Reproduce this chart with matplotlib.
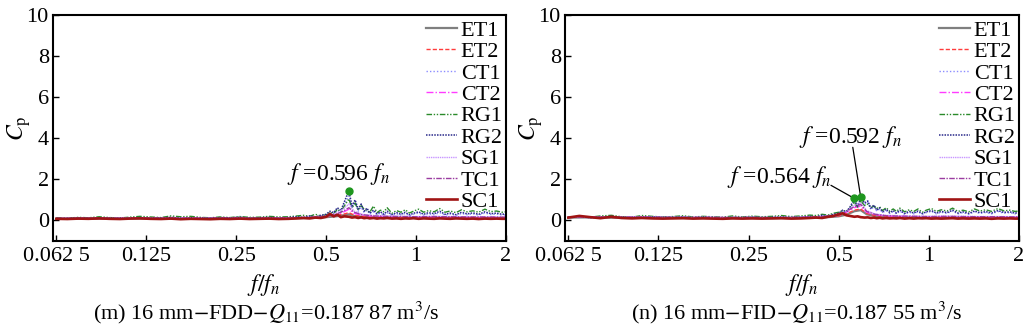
import matplotlib
matplotlib.use("Agg")
import matplotlib.pyplot as plt
import numpy as np

plt.rcParams['font.family'] = ['Liberation Serif', 'DejaVu Serif']
plt.rcParams['mathtext.fontset'] = 'stix'

# ---------------- data ----------------
series_names = ['ET1', 'ET2', 'CT1', 'CT2', 'RG1', 'RG2', 'SG1', 'TC1', 'SC1']
xtick_vals = [0.0625, 0.125, 0.25, 0.5, 1, 2]
xtick_labels = ['0.062 5', '0.125', '0.25', '0.5', '1', '2']
ytick_vals = [0, 2, 4, 6, 8, 10]

# fine frequency grids (f/fn)
freq_fine_m = [0.0625, 0.068, 0.074, 0.080, 0.087, 0.094, 0.102, 0.110, 0.119, 0.129,
               0.140, 0.151, 0.163, 0.176, 0.190, 0.205, 0.221, 0.238, 0.257, 0.277,
               0.299, 0.322, 0.347, 0.374, 0.40, 0.42, 0.44, 0.46, 0.48, 0.50,
               0.515, 0.53, 0.545, 0.56, 0.575, 0.596, 0.61, 0.625, 0.64, 0.655,
               0.67, 0.685, 0.70, 0.72, 0.74, 0.76, 0.78, 0.80, 0.83, 0.86,
               0.89, 0.92, 0.95, 0.98, 1.02, 1.06, 1.10, 1.15, 1.20, 1.25,
               1.30, 1.36, 1.42, 1.48, 1.55, 1.62, 1.70, 1.78, 1.86, 1.94, 2.0]
freq_fine_n = [0.0625, 0.068, 0.074, 0.080, 0.087, 0.094, 0.102, 0.110, 0.119, 0.129,
               0.140, 0.151, 0.163, 0.176, 0.190, 0.205, 0.221, 0.238, 0.257, 0.277,
               0.299, 0.322, 0.347, 0.374, 0.40, 0.42, 0.44, 0.46, 0.48, 0.50,
               0.515, 0.53, 0.545, 0.564, 0.578, 0.592, 0.61, 0.625, 0.64, 0.655,
               0.67, 0.685, 0.70, 0.72, 0.74, 0.76, 0.78, 0.80, 0.83, 0.86,
               0.89, 0.92, 0.95, 0.98, 1.02, 1.06, 1.10, 1.15, 1.20, 1.25,
               1.30, 1.36, 1.42, 1.48, 1.55, 1.62, 1.70, 1.78, 1.86, 1.94, 2.0]
# coarse frequency grids
freq_coarse_m = [0.0625, 0.075, 0.09, 0.105, 0.125, 0.15, 0.18, 0.21, 0.25, 0.30,
                 0.35, 0.40, 0.45, 0.50, 0.54, 0.57, 0.596, 0.62, 0.66, 0.72,
                 0.80, 0.90, 1.0, 1.15, 1.3, 1.5, 1.7, 2.0]
freq_coarse_n = [0.0625, 0.075, 0.09, 0.105, 0.125, 0.15, 0.18, 0.21, 0.25, 0.30,
                 0.35, 0.40, 0.45, 0.50, 0.53, 0.564, 0.592, 0.62, 0.66, 0.72,
                 0.80, 0.90, 1.0, 1.15, 1.3, 1.5, 1.7, 2.0]

# ---- panel (m) ----
ET1_m = [0.08, 0.09, 0.08, 0.10, 0.09, 0.08, 0.09, 0.10, 0.09, 0.08, 0.10, 0.11, 0.12, 0.16,
         0.20, 0.25, 0.30, 0.22, 0.18, 0.15, 0.14, 0.13, 0.12, 0.13, 0.12, 0.12, 0.11, 0.11]
ET2_m = [0.09, 0.10, 0.09, 0.11, 0.10, 0.09, 0.10, 0.11, 0.10, 0.09, 0.11, 0.12, 0.14, 0.18,
         0.24, 0.30, 0.38, 0.26, 0.20, 0.17, 0.16, 0.15, 0.14, 0.15, 0.14, 0.13, 0.13, 0.12]
CT2_m = [0.10, 0.12, 0.09, 0.11, 0.13, 0.10, 0.12, 0.11, 0.10, 0.12, 0.11, 0.13, 0.15, 0.20,
         0.28, 0.40, 0.55, 0.35, 0.25, 0.20, 0.18, 0.17, 0.16, 0.17, 0.16, 0.15, 0.15, 0.14]
SG1_m = [0.09, 0.11, 0.10, 0.12, 0.11, 0.10, 0.12, 0.10, 0.11, 0.10, 0.12, 0.13, 0.16, 0.22,
         0.35, 0.55, 0.80, 0.45, 0.30, 0.24, 0.22, 0.20, 0.19, 0.20, 0.19, 0.18, 0.18, 0.17]
TC1_m = [0.10, 0.11, 0.12, 0.10, 0.12, 0.11, 0.10, 0.11, 0.12, 0.10, 0.12, 0.13, 0.15, 0.21,
         0.30, 0.45, 0.62, 0.40, 0.28, 0.22, 0.20, 0.19, 0.18, 0.19, 0.18, 0.17, 0.17, 0.16]
CT1_m = [0.09, 0.10, 0.11, 0.09, 0.12, 0.10, 0.11, 0.10, 0.13, 0.10,
         0.11, 0.13, 0.10, 0.12, 0.11, 0.10, 0.12, 0.11, 0.14, 0.10,
         0.12, 0.13, 0.11, 0.13, 0.15, 0.14, 0.18, 0.15, 0.20, 0.25,
         0.35, 0.30, 0.50, 0.40, 0.75, 1.20, 0.60, 0.85, 0.45, 0.65,
         0.38, 0.50, 0.30, 0.42, 0.28, 0.36, 0.26, 0.38, 0.25, 0.32,
         0.27, 0.34, 0.24, 0.30, 0.36, 0.26, 0.32, 0.28, 0.38, 0.26,
         0.31, 0.25, 0.34, 0.28, 0.32, 0.26, 0.36, 0.29, 0.31, 0.26, 0.28]
RG1_m = [0.12, 0.11, 0.15, 0.13, 0.18, 0.14, 0.12, 0.16, 0.20, 0.17,
         0.14, 0.22, 0.18, 0.20, 0.15, 0.13, 0.17, 0.14, 0.19, 0.15,
         0.16, 0.20, 0.17, 0.18, 0.22, 0.25, 0.20, 0.30, 0.22, 0.28,
         0.40, 0.32, 0.55, 0.42, 0.70, 1.05, 0.60, 0.85, 0.50, 0.72,
         0.55, 0.48, 0.40, 0.70, 0.38, 0.50, 0.42, 0.62, 0.35, 0.48,
         0.40, 0.52, 0.36, 0.45, 0.55, 0.40, 0.48, 0.42, 0.58, 0.40,
         0.46, 0.38, 0.52, 0.42, 0.47, 0.40, 0.55, 0.43, 0.46, 0.40, 0.42]
RG2_m = [0.10, 0.09, 0.12, 0.10, 0.13, 0.11, 0.10, 0.12, 0.14, 0.11,
         0.12, 0.15, 0.11, 0.13, 0.12, 0.10, 0.14, 0.12, 0.16, 0.11,
         0.13, 0.15, 0.12, 0.14, 0.18, 0.15, 0.22, 0.17, 0.25, 0.30,
         0.45, 0.38, 0.62, 0.48, 0.90, 1.45, 0.70, 1.00, 0.55, 0.80,
         0.45, 0.60, 0.35, 0.50, 0.32, 0.42, 0.30, 0.45, 0.28, 0.38,
         0.30, 0.40, 0.27, 0.35, 0.42, 0.30, 0.38, 0.33, 0.45, 0.30,
         0.36, 0.28, 0.40, 0.32, 0.37, 0.30, 0.42, 0.33, 0.36, 0.30, 0.32]
SC1_m = [0.08, 0.07, 0.09, 0.08, 0.10, 0.08, 0.07, 0.09, 0.10, 0.08,
         0.07, 0.09, 0.06, 0.08, 0.07, 0.06, 0.08, 0.07, 0.09, 0.07,
         0.08, 0.09, 0.07, 0.08, 0.10, 0.12, 0.10, 0.14, 0.12, 0.18,
         0.32, 0.20, 0.28, 0.16, 0.20, 0.18, 0.14, 0.16, 0.12, 0.15,
         0.11, 0.13, 0.10, 0.12, 0.09, 0.11, 0.10, 0.12, 0.09, 0.10,
         0.08, 0.10, 0.09, 0.11, 0.08, 0.10, 0.09, 0.08, 0.10, 0.09,
         0.08, 0.10, 0.09, 0.08, 0.09, 0.07, 0.09, 0.08, 0.09, 0.08, 0.08]

# ---- panel (n) ----
ET1_n = [0.14, 0.15, 0.13, 0.14, 0.13, 0.12, 0.13, 0.12, 0.12, 0.11, 0.12, 0.13, 0.15, 0.20,
         0.28, 0.45, 0.50, 0.30, 0.22, 0.18, 0.16, 0.15, 0.14, 0.15, 0.14, 0.13, 0.13, 0.12]
ET2_n = [0.15, 0.16, 0.14, 0.15, 0.14, 0.13, 0.14, 0.13, 0.13, 0.12, 0.13, 0.14, 0.16, 0.22,
         0.32, 0.50, 0.56, 0.34, 0.25, 0.20, 0.18, 0.17, 0.16, 0.17, 0.16, 0.15, 0.15, 0.14]
CT2_n = [0.16, 0.18, 0.15, 0.16, 0.15, 0.14, 0.15, 0.14, 0.14, 0.13, 0.14, 0.16, 0.18, 0.25,
         0.40, 0.62, 0.70, 0.40, 0.28, 0.22, 0.20, 0.19, 0.18, 0.19, 0.18, 0.17, 0.17, 0.16]
SG1_n = [0.15, 0.17, 0.16, 0.17, 0.16, 0.15, 0.16, 0.15, 0.15, 0.14, 0.15, 0.17, 0.20, 0.28,
         0.45, 0.75, 0.85, 0.48, 0.32, 0.25, 0.23, 0.21, 0.20, 0.21, 0.20, 0.19, 0.19, 0.18]
TC1_n = [0.16, 0.17, 0.15, 0.17, 0.16, 0.15, 0.15, 0.14, 0.15, 0.14, 0.15, 0.16, 0.19, 0.26,
         0.42, 0.68, 0.78, 0.44, 0.30, 0.23, 0.21, 0.20, 0.19, 0.20, 0.19, 0.18, 0.18, 0.17]
CT1_n = [0.14, 0.16, 0.13, 0.15, 0.17, 0.14, 0.12, 0.15, 0.16, 0.13,
         0.14, 0.16, 0.12, 0.14, 0.13, 0.12, 0.14, 0.12, 0.15, 0.13,
         0.14, 0.16, 0.13, 0.15, 0.18, 0.17, 0.22, 0.20, 0.27, 0.32,
         0.45, 0.38, 0.58, 0.95, 0.62, 1.00, 0.78, 0.90, 0.52, 0.68,
         0.45, 0.55, 0.38, 0.48, 0.34, 0.42, 0.32, 0.45, 0.30, 0.40,
         0.32, 0.42, 0.30, 0.38, 0.44, 0.32, 0.40, 0.34, 0.46, 0.32,
         0.38, 0.30, 0.42, 0.34, 0.39, 0.32, 0.44, 0.35, 0.38, 0.32, 0.34]
RG1_n = [0.17, 0.20, 0.16, 0.22, 0.25, 0.18, 0.16, 0.24, 0.20, 0.17,
         0.19, 0.23, 0.17, 0.20, 0.18, 0.16, 0.22, 0.17, 0.21, 0.18,
         0.20, 0.24, 0.19, 0.22, 0.26, 0.24, 0.30, 0.26, 0.35, 0.40,
         0.48, 0.45, 0.60, 0.90, 0.65, 0.95, 0.72, 0.80, 0.62, 0.70,
         0.58, 0.66, 0.48, 0.62, 0.45, 0.56, 0.44, 0.60, 0.42, 0.52,
         0.44, 0.56, 0.40, 0.50, 0.58, 0.44, 0.52, 0.46, 0.60, 0.44,
         0.50, 0.42, 0.56, 0.46, 0.52, 0.44, 0.58, 0.47, 0.50, 0.44, 0.46]
RG2_n = [0.15, 0.18, 0.14, 0.16, 0.20, 0.15, 0.13, 0.16, 0.18, 0.14,
         0.15, 0.17, 0.13, 0.15, 0.14, 0.12, 0.15, 0.13, 0.16, 0.14,
         0.15, 0.17, 0.14, 0.16, 0.20, 0.18, 0.25, 0.22, 0.30, 0.35,
         0.50, 0.42, 0.65, 1.05, 0.70, 1.10, 0.85, 0.95, 0.60, 0.75,
         0.50, 0.62, 0.42, 0.55, 0.38, 0.48, 0.36, 0.50, 0.34, 0.44,
         0.36, 0.46, 0.33, 0.42, 0.48, 0.36, 0.44, 0.38, 0.50, 0.36,
         0.42, 0.34, 0.46, 0.38, 0.43, 0.36, 0.48, 0.39, 0.42, 0.36, 0.38]
SC1_n = [0.14, 0.22, 0.16, 0.11, 0.18, 0.12, 0.10, 0.12, 0.10, 0.09,
         0.10, 0.11, 0.09, 0.10, 0.09, 0.08, 0.10, 0.09, 0.10, 0.09,
         0.10, 0.11, 0.09, 0.10, 0.12, 0.14, 0.12, 0.18, 0.22, 0.30,
         0.35, 0.25, 0.22, 0.18, 0.20, 0.16, 0.14, 0.15, 0.12, 0.14,
         0.11, 0.13, 0.10, 0.12, 0.10, 0.11, 0.10, 0.12, 0.09, 0.11,
         0.09, 0.11, 0.10, 0.11, 0.09, 0.10, 0.09, 0.10, 0.11, 0.09,
         0.10, 0.09, 0.10, 0.09, 0.10, 0.08, 0.10, 0.09, 0.10, 0.09, 0.09]

# marked peaks
peak_f_m = [0.596]
peak_cp_m = [1.45]
peak_f_n = [0.564, 0.592]
peak_cp_n = [1.07, 1.13]

captions = [r'(m) 16 mm$-$FDD$-$$Q_{11}$=0.187 87 m$^3$/s',
            r'(n) 16 mm$-$FID$-$$Q_{11}$=0.187 55 m$^3$/s']

# ---------------- styles ----------------
styles = {
    'ET1': dict(color='#7f7f7f', ls='-', lw=1.6),
    'ET2': dict(color='#ff3c3c', ls=(0, (3, 1.5)), lw=1.0),
    'CT1': dict(color='#8c8cff', ls=(0, (1, 1.5)), lw=1.0),
    'CT2': dict(color='#ff3cff', ls=(0, (5, 1.5, 1, 1.5)), lw=1.0),
    'RG1': dict(color='#2a8a2a', ls=(0, (4, 1.2, 1, 1.2, 1, 1.2)), lw=1.0),
    'RG2': dict(color='#2a2a8a', ls=(0, (1, 0.8)), lw=1.1),
    'SG1': dict(color='#c896ff', ls=(0, (1, 0.6)), lw=1.0),
    'TC1': dict(color='#9a3ca0', ls=(0, (4, 1, 1, 1)), lw=1.0),
    'SC1': dict(color='#a01414', ls='-', lw=1.9),
}

fig = plt.figure(figsize=(10.24, 3.33), dpi=100)
axm = fig.add_axes([53/1024, 1-241/333, 453/1024, 226/333])
axn = fig.add_axes([565/1024, 1-241/333, 454/1024, 226/333])

panels = [
    (axm, freq_fine_m, freq_coarse_m,
     dict(ET1=ET1_m, ET2=ET2_m, CT1=CT1_m, CT2=CT2_m, RG1=RG1_m, RG2=RG2_m,
          SG1=SG1_m, TC1=TC1_m, SC1=SC1_m), peak_f_m, peak_cp_m, captions[0], 0.47, 0.464),
    (axn, freq_fine_n, freq_coarse_n,
     dict(ET1=ET1_n, ET2=ET2_n, CT1=CT1_n, CT2=CT2_n, RG1=RG1_n, RG2=RG2_n,
          SG1=SG1_n, TC1=TC1_n, SC1=SC1_n), peak_f_n, peak_cp_n, captions[1], 0.511, 0.52),
]

fine_set = {'CT1', 'RG1', 'RG2', 'SC1'}
for ax, ff, fc, data, pf, pc, cap, capx, labx in panels:
    for name in series_names:
        x = ff if name in fine_set else fc
        ax.plot(x, data[name], label=name, **styles[name])
    ax.plot(pf, pc, 'o', color='#1e961e', ms=5, zorder=5)
    ax.set_xscale('log', base=2)
    ax.set_xlim(0.0609, 2)
    ax.set_ylim(-1, 10)
    ax.set_xticks(xtick_vals)
    ax.set_xticklabels(xtick_labels)
    ax.xaxis.set_minor_locator(matplotlib.ticker.NullLocator())
    ax.set_yticks(ytick_vals)
    ax.tick_params(axis='both', direction='in', labelsize=16, length=4, width=1)
    ax.tick_params(axis='x', pad=4)
    ax.tick_params(axis='y', pad=3)
    for sp in ax.spines.values():
        sp.set_linewidth(1.5)
    ax.set_xlabel(r'$f/f_n$', fontsize=17)
    ax.xaxis.set_label_coords(labx, -0.195)
    ax.xaxis.label.set_va('center')
    ax.set_ylabel(r'$C_\mathrm{p}$', fontsize=17)
    ax.yaxis.set_label_coords(-0.075, 0.5)
    ax.yaxis.label.set_va('center')
    ax.text(capx, -0.32, cap, transform=ax.transAxes, ha='center', va='center', fontsize=16)
    leg = ax.legend(loc='upper right', bbox_to_anchor=(1.01, 1.012), frameon=False,
                    fontsize=16, handlelength=1.4, handletextpad=0.15,
                    labelspacing=0.04, borderaxespad=0.15, borderpad=0.2)

axm.text(0.549, 2.24, r'$f$ =0.596 $f_n$', ha='center', va='center', fontsize=17)
axn.text(0.549, 4.05, r'$f$ =0.592 $f_n$', ha='center', va='center', fontsize=17)
axn.text(0.317, 2.1, r'$f$ =0.564 $f_n$', ha='center', va='center', fontsize=17)
axn.annotate('', xy=(peak_f_n[0], peak_cp_n[0]), xytext=(0.471, 1.71),
             arrowprops=dict(arrowstyle='-', color='black', lw=0.9, shrinkA=0, shrinkB=2))
axn.annotate('', xy=(peak_f_n[1], peak_cp_n[1]), xytext=(0.557, 3.56),
             arrowprops=dict(arrowstyle='-', color='black', lw=0.9, shrinkA=0, shrinkB=2))

fig.savefig('out.png', dpi=100)
